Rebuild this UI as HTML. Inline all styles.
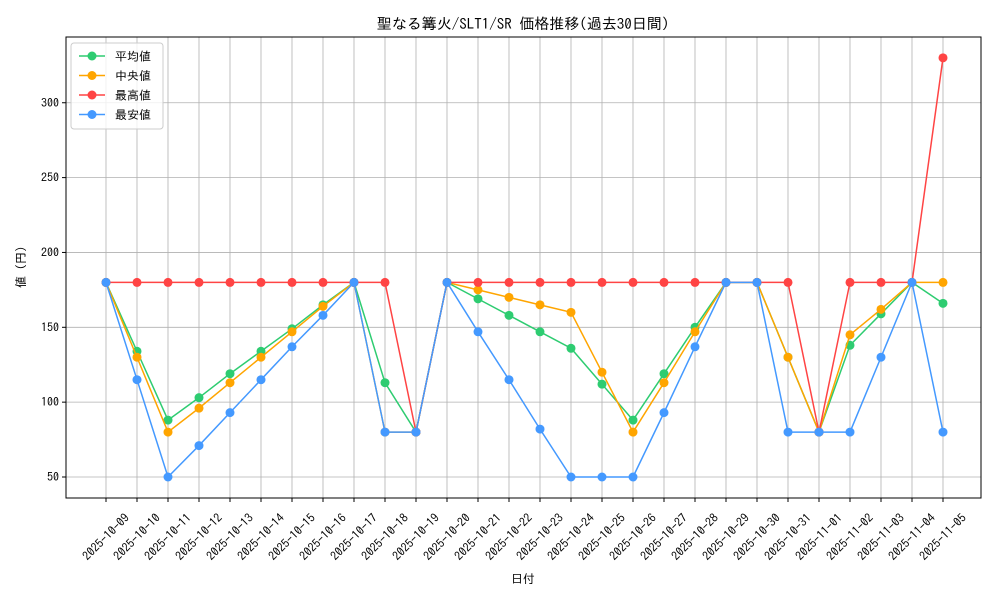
<!DOCTYPE html>
<html><head><meta charset="utf-8"><style>
body{margin:0;background:#fff}
svg{display:block;font-family:"IPAGothic","Liberation Sans","Noto Sans CJK JP",sans-serif}
</style></head><body>
<svg id="s" width="1000" height="600" xmlns="http://www.w3.org/2000/svg"></svg>
<script>
const s=document.getElementById('s');
let h='';
const L=66,R=981,T=37,B=498;
const X=i=>106+31*i, Y=v=>477-(v-50)*1.497;
const dates=[];
for(let d=9;d<=31;d++)dates.push('2025-10-'+String(d).padStart(2,'0'));
for(let d=1;d<=5;d++)dates.push('2025-11-0'+d);
dates.forEach((d,i)=>{h+=`<line x1="${X(i)}" y1="${T}" x2="${X(i)}" y2="${B}" stroke="#b0b0b0" stroke-width="0.8"/>`;});
[50,100,150,200,250,300].forEach(v=>{h+=`<line x1="${L}" y1="${Y(v)}" x2="${R}" y2="${Y(v)}" stroke="#b0b0b0" stroke-width="0.8"/>`;
h+=`<line x1="${L-4}" y1="${Y(v)}" x2="${L}" y2="${Y(v)}" stroke="#000"/>`;
h+=`<text x="${L-7}" y="${Y(v)+4}" font-size="12" text-anchor="end">${v}</text>`;});
dates.forEach((d,i)=>{h+=`<line x1="${X(i)}" y1="${B}" x2="${X(i)}" y2="${B+4}" stroke="#000"/>`;
h+=`<text transform="translate(${X(i)},${537}) rotate(-45)" font-size="12" text-anchor="middle" dominant-baseline="central">${d}</text>`;});
const series=[
['#2ecc71',[180,134,88,103,119,134,149,165,180,113,80,180,169,158,147,136,112,88,119,150,180,180,130,80,138,159,180,166]],
['#ffa500',[180,130,80,96,113,130,147,164,180,80,80,180,175,170,165,160,120,80,113,147,180,180,130,80,145,162,180,180]],
['#ff4444',[180,180,180,180,180,180,180,180,180,180,80,180,180,180,180,180,180,180,180,180,180,180,180,80,180,180,180,330]],
['#4499ff',[180,115,50,71,93,115,137,158,180,80,80,180,147,115,82,50,50,50,93,137,180,180,80,80,80,130,180,80]]];
series.forEach(([c,a])=>{h+=`<polyline fill="none" stroke="${c}" stroke-width="1.5" points="${a.map((v,i)=>X(i)+','+Y(v)).join(' ')}"/>`;
a.forEach((v,i)=>h+=`<circle cx="${X(i)}" cy="${Y(v)}" r="4.5" fill="${c}"/>`);});
h+=`<rect x="${L}" y="${T}" width="${R-L}" height="${B-T}" fill="none" stroke="#000" stroke-width="1"/>`;
h+=`<text x="523" y="29" font-size="15" text-anchor="middle">聖なる篝火/SLT1/SR 価格推移(過去30日間)</text>`;
h+=`<text x="523" y="583" font-size="12" text-anchor="middle">日付</text>`;
h+=`<text transform="translate(25,267) rotate(-90)" font-size="12" text-anchor="middle">値 (円)</text>`;
h+=`<rect x="71" y="43" width="92" height="86" fill="#fff" fill-opacity="0.8" stroke="#ccc" rx="3"/>`;
['平均値','中央値','最高値','最安値'].forEach((t,i)=>{const y=56+19.5*i,c=series[i][0];
h+=`<line x1="79" y1="${y}" x2="105" y2="${y}" stroke="${c}" stroke-width="1.5"/><circle cx="92" cy="${y}" r="4.5" fill="${c}"/><text x="115" y="${y+4.5}" font-size="12">${t}</text>`;});
s.innerHTML=h;
</script>
</body></html>
